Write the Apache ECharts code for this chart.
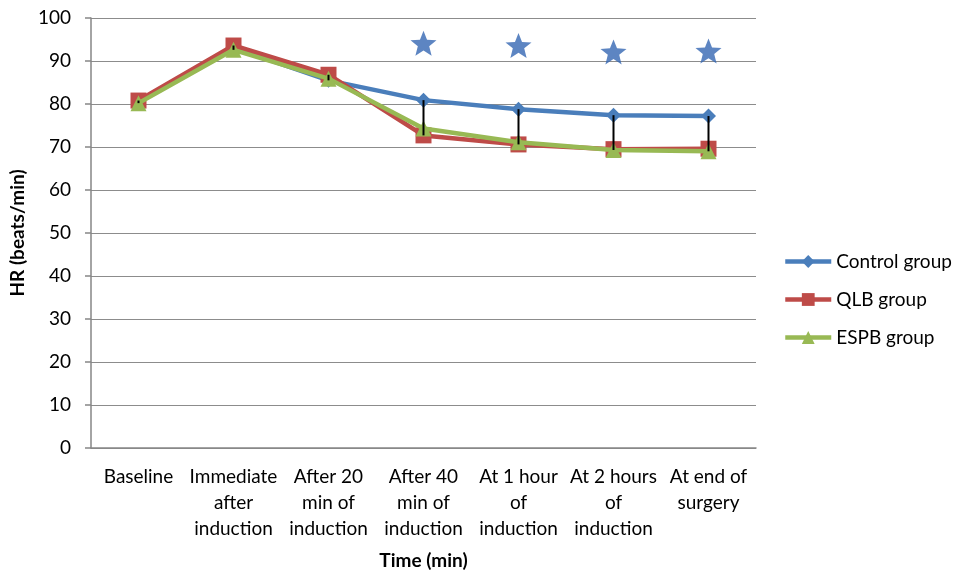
<!DOCTYPE html>
<html>
<head>
<meta charset="utf-8">
<script src="https://cdn.jsdelivr.net/npm/echarts@6/dist/echarts.min.js"></script>
<style>
html,body{margin:0;padding:0;background:#fff;}
#chart{width:957px;height:575px;}
</style>
</head>
<body>
<div id="chart"></div>
<script>
var categories = ['Baseline', 'Immediate\nafter\ninduction', 'After 20\nmin of\ninduction', 'After 40\nmin of\ninduction', 'At 1 hour\nof\ninduction', 'At 2 hours\nof\ninduction', 'At end of\nsurgery'];
var controlGroup = [80.5, 93.1, 85.5, 80.9, 78.8, 77.4, 77.2];
var qlbGroup = [80.8, 93.6, 86.8, 72.7, 70.6, 69.5, 69.6];
var espbGroup = [80.2, 92.6, 85.9, 74.3, 71.1, 69.3, 69.0];
var starMarks = [null, null, null, 94.1, 93.6, 92.1, 92.3];
var yTicks = {min: 0, max: 100, interval: 10};

var font = 'Lato, "Liberation Sans", sans-serif';
var starPath = 'path://M50,0 L63,33 L98,35 L71,57 L80,93 L50,73 L20,93 L29,57 L2,35 L37,33 Z';

var hiLo = categories.map(function (c, i) {
  var vals = [controlGroup[i], qlbGroup[i], espbGroup[i]];
  return [i, Math.max.apply(null, vals), Math.min.apply(null, vals)];
});

var chart = echarts.init(document.getElementById('chart'), null, {renderer: 'canvas'});
chart.setOption({
  animation: false,
  backgroundColor: '#fff',
  textStyle: {fontFamily: font},
  grid: {left: 91, right: 201, top: 18, bottom: 122, containLabel: false},
  legend: {
    orient: 'vertical',
    left: 778,
    top: 247,
    itemWidth: 46,
    itemHeight: 16,
    itemGap: 19,
    data: ['Control group', 'QLB group', 'ESPB group'],
    lineStyle: {width: 4.5},
    textStyle: {fontFamily: font, fontSize: 19, color: '#000', padding: [0, 0, 0, 0]}
  },
  xAxis: {
    type: 'category',
    data: categories,
    boundaryGap: true,
    name: 'Time (min)',
    nameLocation: 'middle',
    nameGap: 103,
    nameTextStyle: {fontFamily: font, fontSize: 19, fontWeight: 'bold', color: '#000'},
    axisLine: {lineStyle: {color: '#868686', width: 1.5}},
    axisTick: {show: false},
    axisLabel: {fontFamily: font, fontSize: 19, color: '#000', lineHeight: 26, margin: 16, interval: 0}
  },
  yAxis: {
    type: 'value',
    min: yTicks.min,
    max: yTicks.max,
    interval: yTicks.interval,
    name: 'HR (beats/min)',
    nameLocation: 'middle',
    nameGap: 62,
    nameTextStyle: {fontFamily: font, fontSize: 19, fontWeight: 'bold', color: '#000'},
    axisLine: {show: true, lineStyle: {color: '#868686', width: 1.5}},
    axisTick: {show: true, inside: false, length: 6, lineStyle: {color: '#868686', width: 1.5}},
    axisLabel: {fontFamily: font, fontSize: 19, color: '#000', margin: 20},
    splitLine: {show: true, lineStyle: {color: '#8c8c8c', width: 1.2}}
  },
  series: [
    {
      name: 'Control group', type: 'line', data: controlGroup,
      symbol: 'diamond', symbolSize: 15,
      lineStyle: {color: '#4A7EBB', width: 4.5},
      itemStyle: {color: '#4A7EBB'}, z: 3
    },
    {
      name: 'QLB group', type: 'line', data: qlbGroup,
      symbol: 'rect', symbolSize: 16,
      lineStyle: {color: '#BE4B48', width: 4.5},
      itemStyle: {color: '#BE4B48'}, z: 4
    },
    {
      name: 'ESPB group', type: 'line', data: espbGroup,
      symbol: 'triangle', symbolSize: 16,
      lineStyle: {color: '#98B954', width: 4.5},
      itemStyle: {color: '#98B954'}, z: 5
    },
    {
      name: 'hilo', type: 'custom', data: hiLo, z: 6, silent: true,
      renderItem: function (params, api) {
        var p1 = api.coord([api.value(0), api.value(1)]);
        var p2 = api.coord([api.value(0), api.value(2)]);
        return {type: 'line', shape: {x1: p1[0], y1: p1[1], x2: p2[0], y2: p2[1]}, style: {stroke: '#000', lineWidth: 2}};
      }
    },
    {
      name: 'stars', type: 'scatter', data: starMarks,
      symbol: starPath, symbolSize: [26, 25],
      itemStyle: {color: '#3566B3'}, z: 7, silent: true
    }
  ]
});
</script>
</body>
</html>
